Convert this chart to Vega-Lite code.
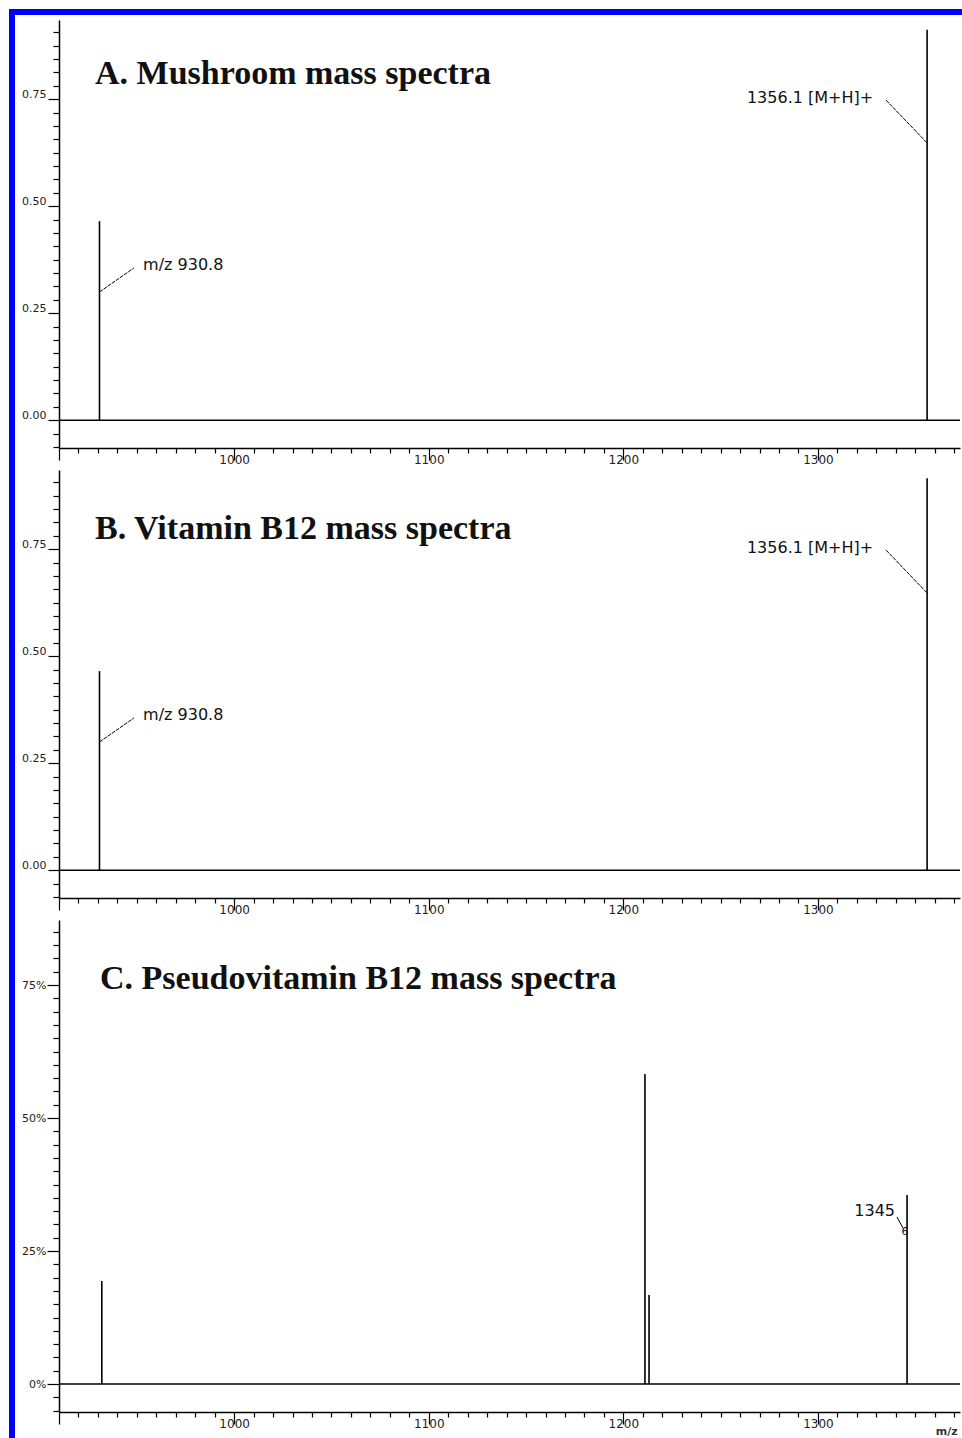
{
  "$schema": "https://vega.github.io/schema/vega-lite/v6.json",
  "autosize": {"type": "pad"},
  "padding": {"left": 6, "top": 6, "right": 0, "bottom": 0},
  "background": "white",
  "bounds": "flush",
  "spacing": 22,
  "config": {"view": {"stroke": null}, "axis": {"grid": false}},
  "datasets": {
    "A_peaks": [{"mz": 930.8, "val": 0.465}, {"mz": 1356.1, "val": 0.912}],
    "B_peaks": [{"mz": 930.8, "val": 0.465}, {"mz": 1356.1, "val": 0.916}],
    "C_peaks": [{"mz": 932.0, "val": 0.1936}, {"mz": 1211.1, "val": 0.5827}, {"mz": 1213.2, "val": 0.1673}, {"mz": 1345.8, "val": 0.3553}],
    "zero": [{"val": 0}],
    "AB_lines": [{"mz": 930.8, "val": 0.2995, "mz2": 948.5, "val2": 0.3556}, {"mz": 1334.97, "val": 0.748, "mz2": 1356.1, "val2": 0.6477}],
    "AB_labels": [{"mz": 953.2, "val": 0.3626, "label": "m/z 930.8"}, {"mz": 1263.5, "val": 0.7527, "label": "1356.1 [M+H]+"}],
    "A_title": [{"mz": 928.5, "val": 0.7855, "label": "A. Mushroom mass spectra"}],
    "B_title": [{"mz": 928.5, "val": 0.7738, "label": "B. Vitamin B12 mass spectra"}],
    "C_title": [{"mz": 931.07, "val": 0.7425, "label": "C. Pseudovitamin B12 mass spectra"}],
    "C_lines": [{"mz": 1340.6, "val": 0.3139, "mz2": 1343.7, "val2": 0.2932}],
    "C_label": [{"mz": 1339.6, "val": 0.3252, "label": "1345"}],
    "C_small": [{"mz": 1344.7, "val": 0.2857, "label": "6"}],
    "C_unit": [{"mz": 1360.5, "val": -0.0902, "label": "m/z"}],
    "frame": [{"mz": 884.31, "val": 0.9537, "mz2": 1374.02, "val2": 0.9537}, {"mz": 885.85, "val": 0.9607, "mz2": 885.85, "val2": -2.378}]
  },
  "vconcat": [
    {
      "width": 901,
      "height": 428,
      "layer": [
        {
          "data": {"name": "A_peaks"},
          "mark": {"type": "rule", "color": "#000", "strokeWidth": 1.6},
          "encoding": {
            "x": {"field": "mz", "type": "quantitative", "scale": {"domain": [910, 1373], "nice": false, "zero": false},
              "axis": {"title": null, "orient": "bottom", "tickCount": 200, "values": [910,920,930,940,950,960,970,980,990,1000,1010,1020,1030,1040,1050,1060,1070,1080,1090,1100,1110,1120,1130,1140,1150,1160,1170,1180,1190,1200,1210,1220,1230,1240,1250,1260,1270,1280,1290,1300,1310,1320,1330,1340,1350,1360,1370],
                "labelExpr": "datum.value % 100 === 0 ? format(datum.value, 'd') : ''",
                "tickSize": {"condition": {"test": "datum.value % 100 === 0 || datum.value === 910", "value": 12}, "value": 5},
                "domainColor": "#000", "domainWidth": 1.5, "tickColor": "#000", "tickWidth": 1.2,
                "labelFont": "DejaVu Sans", "labelFontSize": 12, "labelColor": "#222", "labelPadding": -6, "labelFlush": false, "labelOverlap": false}},
            "y": {"field": "val", "type": "quantitative", "scale": {"domain": [-0.065, 0.935], "nice": false, "zero": false},
              "axis": {"title": null, "orient": "left", "tickCount": 200, "values": [-0.0625,-0.03125,0,0.03125,0.0625,0.09375,0.125,0.15625,0.1875,0.21875,0.25,0.28125,0.3125,0.34375,0.375,0.40625,0.4375,0.46875,0.5,0.53125,0.5625,0.59375,0.625,0.65625,0.6875,0.71875,0.75,0.78125,0.8125,0.84375,0.875,0.90625],
                "labelExpr": "datum.value % 0.25 === 0 ? format(datum.value, '.2f') : ''",
                "tickSize": {"condition": {"test": "datum.value % 0.25 === 0", "value": 11}, "value": 6},
                "domainColor": "#000", "domainWidth": 1.5, "tickColor": "#000", "tickWidth": 1.2,
                "labelFont": "DejaVu Sans", "labelFontSize": 11, "labelColor": "#222", "labelPadding": 2, "labelOffset": -5, "labelFlush": false, "labelOverlap": false}},
            "y2": {"datum": 0}
          }
        },
        {"data": {"name": "zero"}, "mark": {"type": "rule", "color": "#000", "strokeWidth": 1.6}, "encoding": {"y": {"field": "val", "type": "quantitative"}}},
        {"data": {"name": "AB_lines"}, "mark": {"type": "rule", "color": "#000", "strokeWidth": 1, "strokeDash": [4, 1]},
          "encoding": {"x": {"field": "mz", "type": "quantitative"}, "y": {"field": "val", "type": "quantitative"}, "x2": {"field": "mz2"}, "y2": {"field": "val2"}}},
        {"data": {"name": "AB_labels"}, "mark": {"type": "text", "align": "left", "baseline": "middle", "font": "DejaVu Sans", "fontSize": 16, "color": "#111"},
          "encoding": {"x": {"field": "mz", "type": "quantitative"}, "y": {"field": "val", "type": "quantitative"}, "text": {"field": "label"}}},
        {"data": {"name": "A_title"}, "mark": {"type": "text", "align": "left", "baseline": "alphabetic", "font": "Liberation Serif", "fontWeight": "bold", "fontSize": 34, "color": "#111"},
          "encoding": {"x": {"field": "mz", "type": "quantitative"}, "y": {"field": "val", "type": "quantitative"}, "text": {"field": "label"}}},
        {"data": {"name": "frame"}, "mark": {"type": "rule", "color": "#0000ff", "strokeWidth": 6},
          "encoding": {"x": {"field": "mz", "type": "quantitative"}, "y": {"field": "val", "type": "quantitative"}, "x2": {"field": "mz2"}, "y2": {"field": "val2"}}}
      ]
    },
    {
      "width": 901,
      "height": 428,
      "layer": [
        {
          "data": {"name": "B_peaks"},
          "mark": {"type": "rule", "color": "#000", "strokeWidth": 1.6},
          "encoding": {
            "x": {"field": "mz", "type": "quantitative", "scale": {"domain": [910, 1373], "nice": false, "zero": false},
              "axis": {"title": null, "orient": "bottom", "tickCount": 200, "values": [910,920,930,940,950,960,970,980,990,1000,1010,1020,1030,1040,1050,1060,1070,1080,1090,1100,1110,1120,1130,1140,1150,1160,1170,1180,1190,1200,1210,1220,1230,1240,1250,1260,1270,1280,1290,1300,1310,1320,1330,1340,1350,1360,1370],
                "labelExpr": "datum.value % 100 === 0 ? format(datum.value, 'd') : ''",
                "tickSize": {"condition": {"test": "datum.value % 100 === 0 || datum.value === 910", "value": 12}, "value": 5},
                "domainColor": "#000", "domainWidth": 1.5, "tickColor": "#000", "tickWidth": 1.2,
                "labelFont": "DejaVu Sans", "labelFontSize": 12, "labelColor": "#222", "labelPadding": -6, "labelFlush": false, "labelOverlap": false}},
            "y": {"field": "val", "type": "quantitative", "scale": {"domain": [-0.065, 0.935], "nice": false, "zero": false},
              "axis": {"title": null, "orient": "left", "tickCount": 200, "values": [-0.0625,-0.03125,0,0.03125,0.0625,0.09375,0.125,0.15625,0.1875,0.21875,0.25,0.28125,0.3125,0.34375,0.375,0.40625,0.4375,0.46875,0.5,0.53125,0.5625,0.59375,0.625,0.65625,0.6875,0.71875,0.75,0.78125,0.8125,0.84375,0.875,0.90625],
                "labelExpr": "datum.value % 0.25 === 0 ? format(datum.value, '.2f') : ''",
                "tickSize": {"condition": {"test": "datum.value % 0.25 === 0", "value": 11}, "value": 6},
                "domainColor": "#000", "domainWidth": 1.5, "tickColor": "#000", "tickWidth": 1.2,
                "labelFont": "DejaVu Sans", "labelFontSize": 11, "labelColor": "#222", "labelPadding": 2, "labelOffset": -5, "labelFlush": false, "labelOverlap": false}},
            "y2": {"datum": 0}
          }
        },
        {"data": {"name": "zero"}, "mark": {"type": "rule", "color": "#000", "strokeWidth": 1.6}, "encoding": {"y": {"field": "val", "type": "quantitative"}}},
        {"data": {"name": "AB_lines"}, "mark": {"type": "rule", "color": "#000", "strokeWidth": 1, "strokeDash": [4, 1]},
          "encoding": {"x": {"field": "mz", "type": "quantitative"}, "y": {"field": "val", "type": "quantitative"}, "x2": {"field": "mz2"}, "y2": {"field": "val2"}}},
        {"data": {"name": "AB_labels"}, "mark": {"type": "text", "align": "left", "baseline": "middle", "font": "DejaVu Sans", "fontSize": 16, "color": "#111"},
          "encoding": {"x": {"field": "mz", "type": "quantitative"}, "y": {"field": "val", "type": "quantitative"}, "text": {"field": "label"}}},
        {"data": {"name": "B_title"}, "mark": {"type": "text", "align": "left", "baseline": "alphabetic", "font": "Liberation Serif", "fontWeight": "bold", "fontSize": 34, "color": "#111"},
          "encoding": {"x": {"field": "mz", "type": "quantitative"}, "y": {"field": "val", "type": "quantitative"}, "text": {"field": "label"}}}
      ]
    },
    {
      "width": 901,
      "height": 492,
      "layer": [
        {
          "data": {"name": "C_peaks"},
          "mark": {"type": "rule", "color": "#000", "strokeWidth": 1.6},
          "encoding": {
            "x": {"field": "mz", "type": "quantitative", "scale": {"domain": [910, 1373], "nice": false, "zero": false},
              "axis": {"title": null, "orient": "bottom", "tickCount": 200, "values": [910,920,930,940,950,960,970,980,990,1000,1010,1020,1030,1040,1050,1060,1070,1080,1090,1100,1110,1120,1130,1140,1150,1160,1170,1180,1190,1200,1210,1220,1230,1240,1250,1260,1270,1280,1290,1300,1310,1320,1330,1340,1350,1360,1370],
                "labelExpr": "datum.value % 100 === 0 ? format(datum.value, 'd') : ''",
                "tickSize": {"condition": {"test": "datum.value % 100 === 0 || datum.value === 910", "value": 12}, "value": 5},
                "domainColor": "#000", "domainWidth": 1.5, "tickColor": "#000", "tickWidth": 1.2,
                "labelFont": "DejaVu Sans", "labelFontSize": 12, "labelColor": "#222", "labelPadding": -6, "labelFlush": false, "labelOverlap": false}},
            "y": {"field": "val", "type": "quantitative", "scale": {"domain": [-0.0526, 0.8722], "nice": false, "zero": false},
              "axis": {"title": null, "orient": "left", "tickCount": 200, "values": [-0.05,-0.025,0,0.025,0.05,0.075,0.1,0.125,0.15,0.175,0.2,0.225,0.25,0.275,0.3,0.325,0.35,0.375,0.4,0.425,0.45,0.475,0.5,0.525,0.55,0.575,0.6,0.625,0.65,0.675,0.7,0.725,0.75,0.775,0.8,0.825,0.85],
                "labelExpr": "abs(datum.value * 4 - round(datum.value * 4)) < 0.000001 ? format(datum.value, '.0%') : ''",
                "tickSize": {"condition": {"test": "abs(datum.value * 4 - round(datum.value * 4)) < 0.000001", "value": 12}, "value": 6},
                "domainColor": "#000", "domainWidth": 1.5, "tickColor": "#000", "tickWidth": 1.2,
                "labelFont": "DejaVu Sans", "labelFontSize": 11, "labelColor": "#222", "labelPadding": 1, "labelOffset": 0, "labelFlush": false, "labelOverlap": false}},
            "y2": {"datum": 0}
          }
        },
        {"data": {"name": "zero"}, "mark": {"type": "rule", "color": "#000", "strokeWidth": 1.6}, "encoding": {"y": {"field": "val", "type": "quantitative"}}},
        {"data": {"name": "C_lines"}, "mark": {"type": "rule", "color": "#000", "strokeWidth": 1},
          "encoding": {"x": {"field": "mz", "type": "quantitative"}, "y": {"field": "val", "type": "quantitative"}, "x2": {"field": "mz2"}, "y2": {"field": "val2"}}},
        {"data": {"name": "C_label"}, "mark": {"type": "text", "align": "right", "baseline": "middle", "font": "DejaVu Sans", "fontSize": 16, "color": "#111"},
          "encoding": {"x": {"field": "mz", "type": "quantitative"}, "y": {"field": "val", "type": "quantitative"}, "text": {"field": "label"}}},
        {"data": {"name": "C_small"}, "mark": {"type": "text", "align": "center", "baseline": "middle", "font": "DejaVu Sans", "fontSize": 11, "color": "#111"},
          "encoding": {"x": {"field": "mz", "type": "quantitative"}, "y": {"field": "val", "type": "quantitative"}, "text": {"field": "label"}}},
        {"data": {"name": "C_unit"}, "mark": {"type": "text", "align": "left", "baseline": "middle", "font": "DejaVu Sans", "fontSize": 11, "fontWeight": "bold", "color": "#333"},
          "encoding": {"x": {"field": "mz", "type": "quantitative"}, "y": {"field": "val", "type": "quantitative"}, "text": {"field": "label"}}},
        {"data": {"name": "C_title"}, "mark": {"type": "text", "align": "left", "baseline": "alphabetic", "font": "Liberation Serif", "fontWeight": "bold", "fontSize": 34, "color": "#111"},
          "encoding": {"x": {"field": "mz", "type": "quantitative"}, "y": {"field": "val", "type": "quantitative"}, "text": {"field": "label"}}}
      ]
    }
  ]
}
